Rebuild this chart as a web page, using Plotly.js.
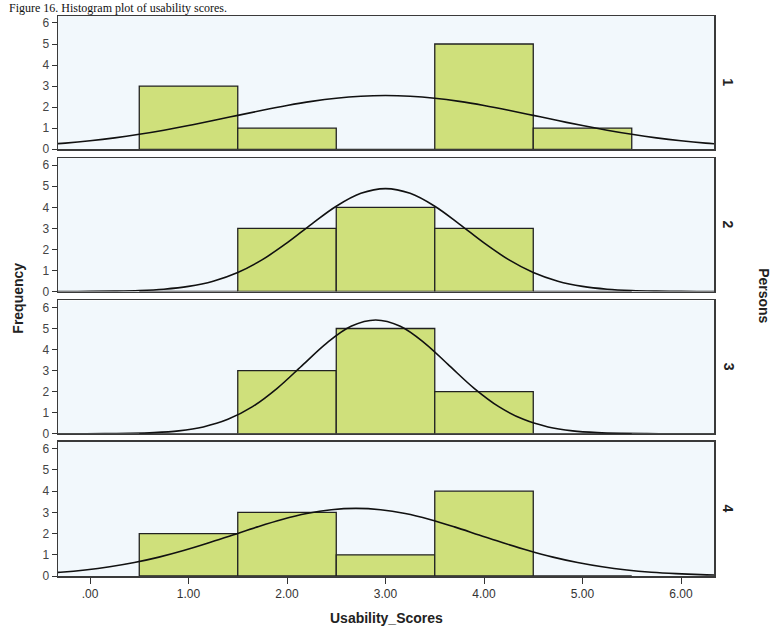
<!DOCTYPE html>
<html>
<head>
<meta charset="utf-8">
<script src="https://cdn.plot.ly/plotly-3.0.1.min.js"></script>
<style>html,body{margin:0;padding:0;background:#fff;}#chart{width:776px;height:633px;}</style>
</head>
<body>
<div id="chart"></div>
<script>
// Histogram bins (bin centres) and counts per person
const binCenters = [1, 2, 3, 4, 5];
const counts1 = [3, 1, 0, 5, 1];
const counts2 = [0, 3, 4, 3, 0];
const counts3 = [0, 3, 5, 2, 0];
const counts4 = [2, 3, 1, 4, 0];
const panelLabels = ['1', '2', '3', '4'];
const xTickVals = [0, 1, 2, 3, 4, 5, 6];
const xTickText = ['.00', '1.00', '2.00', '3.00', '4.00', '5.00', '6.00'];
const yTickVals = [0, 1, 2, 3, 4, 5, 6];

// Fitted normal curves
const curveX1 = [-0.5,-0.25,0,0.25,0.5,0.75,1,1.25,1.5,1.75,2,2.25,2.5,2.75,3,3.25,3.5,3.75,4,4.25,4.5,4.75,5,5.25,5.5,5.75,6,6.25,6.5];
const curveY1 = [0.208,0.294,0.405,0.543,0.711,0.906,1.126,1.364,1.611,1.854,2.080,2.275,2.425,2.520,2.552,2.520,2.425,2.275,2.080,1.854,1.611,1.364,1.126,0.906,0.711,0.543,0.405,0.294,0.208];
const curveX2 = [-0.5,-0.25,0,0.25,0.5,0.75,1,1.25,1.5,1.75,2,2.25,2.5,2.75,3,3.25,3.5,3.75,4,4.25,4.5,4.75,5,5.25,5.5,5.75,6,6.25,6.5];
const curveY2 = [0.0005,0.0018,0.0057,0.017,0.045,0.110,0.243,0.491,0.904,1.514,2.308,3.204,4.050,4.662,4.886,4.662,4.050,3.204,2.308,1.514,0.904,0.491,0.243,0.110,0.045,0.017,0.0057,0.0018,0.0005];
const curveX3 = [-0.6,-0.35,-0.1,0.15,0.4,0.65,0.9,1.15,1.4,1.65,1.9,2.15,2.4,2.65,2.9,3.15,3.4,3.65,3.9,4.15,4.4,4.65,4.9,5.15,5.4,5.65,5.9,6.15,6.4];
const curveY3 = [0.0001,0.0003,0.0014,0.0052,0.017,0.052,0.137,0.325,0.684,1.287,2.158,3.225,4.297,5.104,5.406,5.104,4.297,3.225,2.158,1.287,0.684,0.325,0.137,0.052,0.017,0.0052,0.0014,0.0003,0.0001];
const curveX4 = [-0.55,-0.3,-0.05,0.2,0.45,0.7,0.95,1.2,1.45,1.7,1.95,2.2,2.45,2.7,2.95,3.2,3.45,3.7,3.95,4.2,4.45,4.7,4.95,5.2,5.45,5.7,5.95,6.2,6.45];
const curveY4 = [0.110,0.180,0.285,0.434,0.634,0.889,1.199,1.554,1.935,2.316,2.663,2.943,3.124,3.187,3.124,2.943,2.663,2.316,1.935,1.554,1.199,0.889,0.634,0.434,0.285,0.180,0.110,0.064,0.036];

const allCounts = [counts1, counts2, counts3, counts4];
const allCurveX = [curveX1, curveX2, curveX3, curveX4];
const allCurveY = [curveY1, curveY2, curveY3, curveY4];

const barColor = '#cfe07b';
const traces = [];
for (let i = 0; i < 4; i++) {
  const sx = i === 0 ? 'x' : 'x' + (i + 1);
  const sy = i === 0 ? 'y' : 'y' + (i + 1);
  traces.push({
    type: 'bar', x: binCenters, y: allCounts[i], width: 1,
    marker: {color: barColor, line: {color: '#222', width: 1.3}},
    xaxis: sx, yaxis: sy, hoverinfo: 'x+y', showlegend: false
  });
  traces.push({
    type: 'scatter', mode: 'lines', x: allCurveX[i], y: allCurveY[i],
    line: {color: '#111', width: 1.6, shape: 'spline'},
    xaxis: sx, yaxis: sy, hoverinfo: 'skip', showlegend: false, cliponaxis: true
  });
}

const topMargin = 16;
const plotH = 633 - topMargin - 57;
const domains = [[0.762, 1.0], [0.508, 0.746], [0.254, 0.492], [0.0, 0.2398]];
const layout = {
  width: 776, height: 633,
  margin: {l: 58, r: 62, t: topMargin, b: 57},
  paper_bgcolor: '#ffffff',
  plot_bgcolor: '#f2f8fc',
  bargap: 0,
  showlegend: false,
  annotations: [],
  font: {family: 'Liberation Sans, Arial, sans-serif', color: '#333'}
};
for (let i = 0; i < 4; i++) {
  const xk = i === 0 ? 'xaxis' : 'xaxis' + (i + 1);
  const yk = i === 0 ? 'yaxis' : 'yaxis' + (i + 1);
  const sx = i === 0 ? 'x' : 'x' + (i + 1);
  layout[xk] = {
    domain: [0, 1], anchor: i === 0 ? 'y' : 'y' + (i + 1),
    range: [-0.325, 6.335], tickmode: 'array', tickvals: xTickVals, ticktext: xTickText,
    showticklabels: i === 3, ticks: i === 3 ? 'outside' : '', ticklen: 6, tickcolor: '#333',
    tickfont: {family: 'Liberation Sans Narrow, Arial Narrow, sans-serif', size: 12, color: '#333'},
    showgrid: false, zeroline: false, showline: true, linecolor: '#3a3a3a', linewidth: 1.5, mirror: true,
    matches: i === 0 ? undefined : 'x'
  };
  layout[yk] = {
    domain: domains[i], anchor: sx,
    range: [0, 6.33], tickmode: 'array', tickvals: yTickVals,
    ticks: 'outside', ticklen: 5, tickcolor: '#333',
    tickfont: {family: 'Liberation Sans, Arial, sans-serif', size: 12, color: '#444'},
    showgrid: false, zeroline: false, showline: true, linecolor: '#3a3a3a', linewidth: 1.5, mirror: true
  };
  layout.annotations.push({
    text: '<b>' + panelLabels[i] + '</b>', xref: 'paper', yref: 'paper',
    x: 1.022, y: (domains[i][0] + domains[i][1]) / 2, xanchor: 'center', yanchor: 'middle',
    textangle: 90, showarrow: false, font: {family: 'Liberation Sans, Arial, sans-serif', size: 14, color: '#222'}
  });
}
layout.annotations.push({
  text: '<b>Persons</b>', xref: 'paper', yref: 'paper', x: 1.076, y: 0.5,
  xanchor: 'center', yanchor: 'middle', textangle: 90, showarrow: false,
  font: {family: 'Liberation Sans, Arial, sans-serif', size: 14, color: '#222'}
});
layout.annotations.push({
  text: '<b>Frequency</b>', xref: 'paper', yref: 'paper', x: -0.061, y: 0.497,
  xanchor: 'center', yanchor: 'middle', textangle: -90, showarrow: false,
  font: {family: 'Liberation Sans, Arial, sans-serif', size: 14, color: '#222'}
});
layout.annotations.push({
  text: '<b>Usability_Scores</b>', xref: 'paper', yref: 'paper', x: 0.5, y: -0.075,
  xanchor: 'center', yanchor: 'middle', showarrow: false,
  font: {family: 'Liberation Sans, Arial, sans-serif', size: 14, color: '#222'}
});
layout.annotations.push({
  text: 'Figure 16. Histogram plot of usability scores.', xref: 'paper', yref: 'paper',
  x: -0.076, y: 1.0 + topMargin / plotH, xanchor: 'left', yanchor: 'top', yshift: 0, borderpad: 0, showarrow: false,
  font: {family: 'Liberation Serif, Times New Roman, serif', size: 12, color: '#111'}
});

Plotly.newPlot('chart', traces, layout, {displayModeBar: false, staticPlot: true});
</script>
</body>
</html>
